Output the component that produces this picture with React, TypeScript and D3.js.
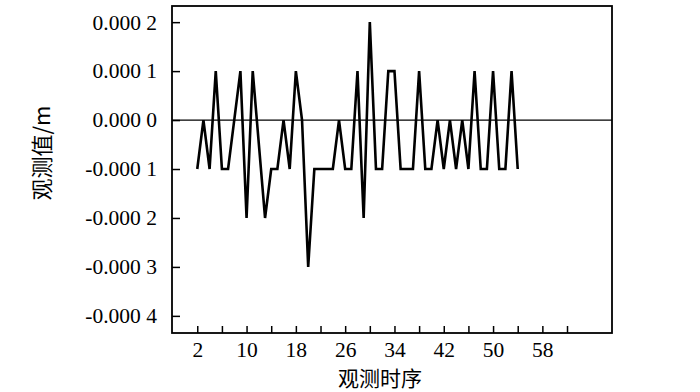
import React, { useRef, useEffect } from 'react';
import * as d3 from 'd3';

// observation order and value (unit: 0.0001 m)
const seq = [
  2, 3, 4, 5, 6, 7, 8, 9, 10, 11, 12, 13, 14, 15, 16, 17, 18, 19, 20, 21,
  22, 23, 24, 25, 26, 27, 28, 29, 30, 31, 32, 33, 34, 35, 36, 37, 38, 39, 40,
  41, 42, 43, 44, 45, 46, 47, 48, 49, 50, 51, 52, 53, 54,
];
const obs = [
  -1, 0, -1, 1, -1, -1, 0, 1, -2, 1, -0.5, -2, -1, -1, 0, -1, 1, 0, -3, -1,
  -1, -1, -1, 0, -1, -1, 1, -2, 2, -1, -1, 1, 1, -1, -1, -1, 1, -1, -1,
  0, -1, 0, -1, 0, -1, 1, -1, -1, 1, -1, -1, 1, -1,
];
const yTicks = [0.0002, 0.0001, 0, -0.0001, -0.0002, -0.0003, -0.0004];
const xTicks = [2, 6, 10, 14, 18, 22, 26, 30, 34, 38, 42, 46, 50, 54, 58, 62];
const xLabels = [2, 10, 18, 26, 34, 42, 50, 58];

const W = 700;
const H = 392;
const margin = { top: 6, right: 88, bottom: 59, left: 172 };
const serif = '"Liberation Serif", "Times New Roman", serif';
const cjk = '"Noto Sans CJK SC", sans-serif';

const App = () => {
  const svgRef = useRef<SVGSVGElement>(null);

  useEffect(() => {
    const svg = d3.select(svgRef.current);
    svg.selectAll('*').remove();

    const x0 = margin.left;
    const x1 = W - margin.right;
    const y0 = margin.top;
    const y1 = H - margin.bottom;

    const x = d3.scaleLinear().domain([-2.1, 69.3]).range([x0, x1]);
    const y = d3.scaleLinear().domain([-0.000435, 0.000233]).range([y1, y0]);

    // "0.000 2" style, plain hyphen for minus
    const fmt = (v: number) => {
      const s = (Math.abs(v) < 1e-12 ? 0 : v).toFixed(4);
      return s.slice(0, -1) + ' ' + s.slice(-1);
    };

    // zero line
    svg.append('line')
      .attr('x1', x0).attr('x2', x1)
      .attr('y1', y(0)).attr('y2', y(0))
      .attr('stroke', '#000').attr('stroke-width', 1.2);

    // data line
    const pts = seq.map((s, i) => [s, obs[i] * 1e-4] as [number, number]);
    const line = d3.line<[number, number]>()
      .x(d => x(d[0]))
      .y(d => y(d[1]));
    svg.append('path')
      .datum(pts)
      .attr('d', line)
      .attr('fill', 'none')
      .attr('stroke', '#000')
      .attr('stroke-width', 2.6)
      .attr('stroke-linejoin', 'miter');

    // frame
    svg.append('rect')
      .attr('x', x0).attr('y', y0)
      .attr('width', x1 - x0).attr('height', y1 - y0)
      .attr('fill', 'none')
      .attr('stroke', '#000').attr('stroke-width', 1.8);

    // y axis (ticks inward)
    const yAxis = d3.axisLeft(y)
      .tickValues(yTicks)
      .tickSize(-8)
      .tickPadding(15)
      .tickFormat(d => fmt(+d));
    const gy = svg.append('g')
      .attr('transform', `translate(${x0},0)`)
      .call(yAxis);
    gy.select('.domain').remove();
    gy.selectAll('line').attr('stroke-width', 1.5);
    gy.selectAll('text')
      .attr('font-family', serif)
      .attr('font-size', 21.5)
      .attr('fill', '#000');

    // x axis (ticks inward)
    const xAxis = d3.axisBottom(x)
      .tickValues(xTicks)
      .tickSize(-7)
      .tickPadding(9)
      .tickFormat(d => (xLabels.includes(+d) ? String(d) : ''));
    const gx = svg.append('g')
      .attr('transform', `translate(0,${y1})`)
      .call(xAxis);
    gx.select('.domain').remove();
    gx.selectAll('line').attr('stroke-width', 1.5);
    gx.selectAll('text')
      .attr('font-family', serif)
      .attr('font-size', 21.5)
      .attr('fill', '#000');

    // axis titles
    svg.append('text')
      .attr('x', 380).attr('y', 386)
      .attr('text-anchor', 'middle')
      .attr('font-family', cjk)
      .attr('font-size', 21)
      .attr('fill', '#000')
      .text('观测时序');

    svg.append('text')
      .attr('transform', 'translate(50,153) rotate(-90)')
      .attr('text-anchor', 'middle')
      .attr('font-family', cjk)
      .attr('font-size', 22)
      .attr('fill', '#000')
      .text('观测值/m');
  }, []);

  return (
    <div style={{ position: 'absolute', left: 0, top: 0 }}>
      <svg ref={svgRef} width={W} height={H} style={{ display: 'block', background: '#fff' }}></svg>
    </div>
  );
};

export default App;
